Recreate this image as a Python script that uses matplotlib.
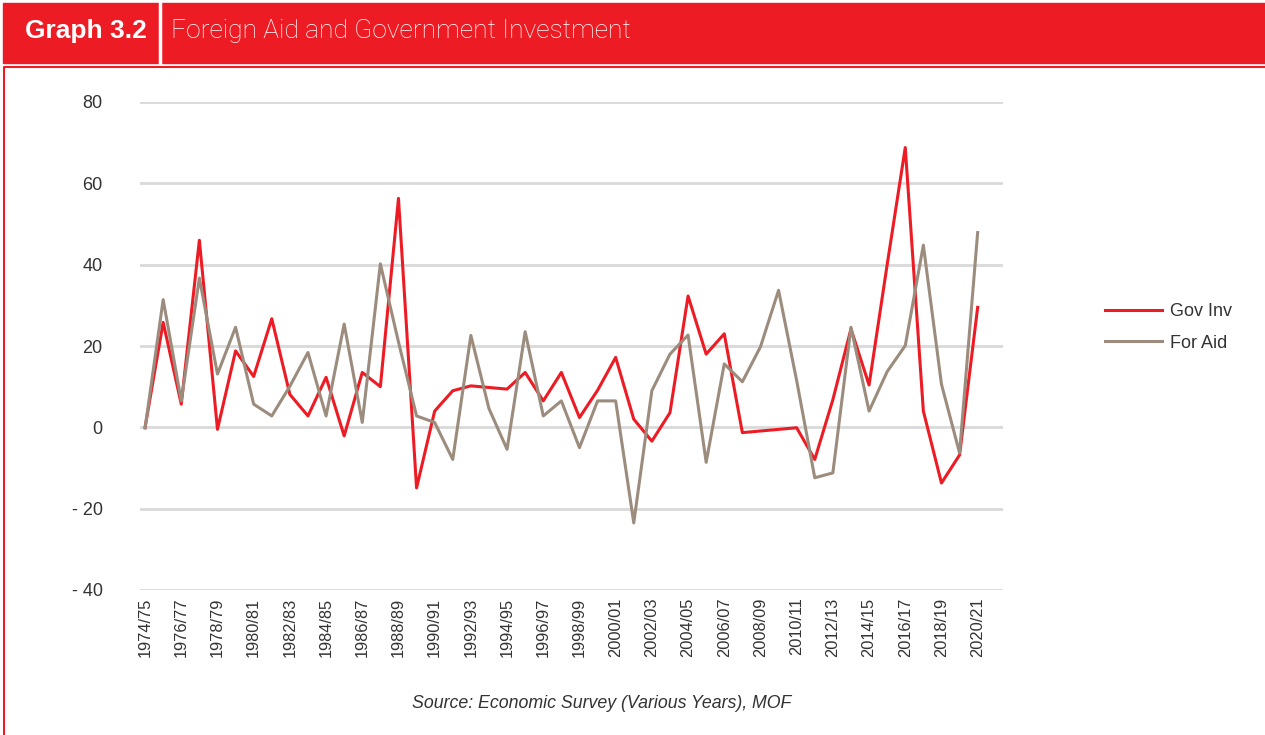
import numpy as np
import matplotlib
matplotlib.use('Agg')
import matplotlib.pyplot as plt
from matplotlib.patches import Rectangle
from matplotlib.lines import Line2D

# fiscal years 1974/75 .. 2020/21
years = ['%d/%02d' % (y, (y + 1) % 100) for y in range(1974, 2021)]

gov_inv = [0.0, 25.8, 5.7, 46.0, -0.5, 18.8, 12.5, 26.7, 8.1, 2.8,
           12.3, -2.1, 13.5, 10.0, 56.3, -14.9, 4.0, 9.0, 10.2, 9.8,
           9.4, 13.5, 6.5, 13.5, 2.4, 9.1, 17.2, 2.0, -3.4, 3.6,
           32.3, 18.0, 23.0, -1.3, -0.9, -0.5, -0.1, -7.9, 6.8, 24.2,
           10.4, 40.0, 68.8, 4.0, -13.7, -6.8, 29.5]

for_aid = [-0.2, 31.4, 6.5, 36.7, 13.1, 24.6, 5.7, 2.8, 10.1, 18.4,
           2.8, 25.4, 1.2, 40.2, 21.0, 2.8, 1.2, -7.9, 22.6, 4.6,
           -5.4, 23.5, 2.8, 6.5, -5.0, 6.5, 6.5, -23.5, 9.0, 18.0,
           22.7, -8.6, 15.6, 11.2, 19.8, 33.7, 11.5, -12.4, -11.2, 24.6,
           4.0, 13.7, 20.1, 44.8, 10.6, -6.3, 47.9]

y_ticks = [-40, -20, 0, 20, 40, 60, 80]
y_labels = ['- 40', '- 20', '0', '20', '40', '60', '80']

red = '#ED1C24'
brown = '#9C8C7E'
txt = '#333333'

plt.rcParams['font.family'] = ['Liberation Sans', 'DejaVu Sans']

W, H = 1265, 735
fig = plt.figure(figsize=(W / 100, H / 100), dpi=100)

# header banner
fig.patches.append(Rectangle((3 / W, 1 - 63 / H), 1 - 3 / W, 60 / H,
                             transform=fig.transFigure, color=red, zorder=0))
fig.lines.append(Line2D([160 / W, 160 / W], [1 - 63 / H, 1 - 3 / H],
                        transform=fig.transFigure, color='white', lw=2.5))
fig.text(25 / W, 1 - 31 / H, 'Graph 3.2', color='white', fontsize=19,
         fontweight='bold', va='center', ha='left')
fig.text(171 / W, 1 - 31 / H, 'Foreign Aid and Government Investment',
         color='white', fontsize=19, family='Roboto', fontweight='light',
         va='center', ha='left')

# thin frame around the panel
fig.lines.append(Line2D([3.5 / W, 3.5 / W, 1], [0, 1 - 66.5 / H, 1 - 66.5 / H],
                        transform=fig.transFigure, color=red, lw=1.5))

ax = fig.add_axes([140 / W, 1 - 590 / H, 863 / W, 488 / H])
x = np.arange(len(years))
ax.plot(x, gov_inv, color=red, lw=2.2, label='Gov Inv', zorder=3)
ax.plot(x, for_aid, color=brown, lw=2.2, label='For Aid', zorder=4)

ax.set_ylim(-40, 80)
ax.set_xlim(-0.28, 47.4)
ax.set_yticks(y_ticks)
ax.set_yticklabels(y_labels, fontsize=13, color=txt)
ax.set_xticks(x[::2])
ax.set_xticklabels(years[::2], rotation=90, fontsize=11.8, color=txt)
ax.tick_params(axis='y', length=0, pad=27)
ax.tick_params(axis='x', length=0, pad=5.5)
ax.grid(axis='y', color='#D9D9D9', lw=2)
ax.set_axisbelow(True)
for s in ax.spines.values():
    s.set_visible(False)

fig.legend(loc='center left', bbox_to_anchor=(1105 / W, 1 - 327.5 / H),
           frameon=False, fontsize=13, handlelength=3.15, handletextpad=0.45,
           labelspacing=0.78, borderpad=0, borderaxespad=0, labelcolor=txt)

fig.text(602 / W, 1 - 703 / H, 'Source: Economic Survey (Various Years), MOF',
         fontsize=12.8, style='italic', color=txt, ha='center', va='center')

fig.savefig('out.png', dpi=100)
